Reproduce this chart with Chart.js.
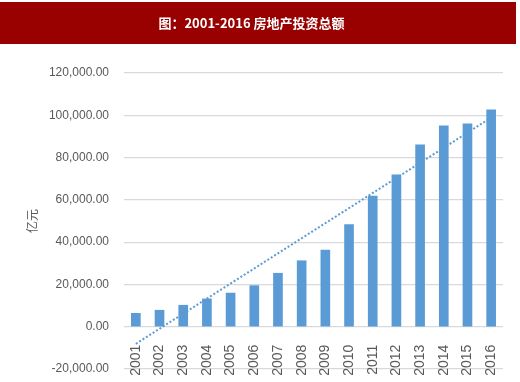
<!DOCTYPE html>
<html>
<head>
<meta charset="utf-8">
<script src="https://cdn.jsdelivr.net/npm/chart.js@4.4.1/dist/chart.umd.min.js"></script>
<style>
  html, body { margin: 0; padding: 0; background: #ffffff; }
  #wrap { width: 520px; height: 382px; position: relative; }
</style>
</head>
<body>
<div id="wrap"><canvas id="c" width="520" height="382"></canvas></div>
<script>
// ---- Data ----
const titleText = '图：2001-2016 房地产投资总额';
const yAxisTitle = '亿元';
const years = ['2001','2002','2003','2004','2005','2006','2007','2008','2009','2010','2011','2012','2013','2014','2015','2016'];
const investment = [6344, 7791, 10154, 13158, 15909, 19423, 25289, 31203, 36242, 48259, 61797, 71804, 86013, 95036, 95979, 102581];
// dotted linear trend line: endpoints (straight line between them)
const trend = [-8100, null, null, null, null, null, null, null, null, null, null, null, null, null, null, 98900];
const yTicks = [-20000, 0, 20000, 40000, 60000, 80000, 100000, 120000];

const bannerPlugin = {
  id: 'banner',
  beforeDraw(chart) {
    const ctx = chart.ctx;
    ctx.save();
    ctx.fillStyle = '#ffffff';
    ctx.fillRect(0, 0, chart.width, chart.height);
    ctx.fillStyle = '#990000';
    ctx.fillRect(0, 2, chart.width - 4, 42);
    ctx.restore();
  }
};

new Chart(document.getElementById('c'), {
  data: {
    labels: years,
    datasets: [
      {
        type: 'line',
        label: '趋势',
        data: trend,
        spanGaps: true,
        borderColor: '#5B9BD5',
        borderWidth: 2,
        borderDash: [2, 2],
        pointRadius: 0,
        fill: false,
        order: 0
      },
      {
        type: 'bar',
        label: '房地产投资总额',
        data: investment,
        backgroundColor: '#5B9BD5',
        borderWidth: 0,
        barThickness: 9,
        order: 1
      }
    ]
  },
  options: {
    responsive: false,
    animation: false,
    layout: { padding: { left: 0, right: 17, top: 0, bottom: 13 } },
    plugins: {
      legend: { display: false },
      tooltip: { enabled: false },
      title: {
        display: true,
        text: titleText,
        color: '#ffffff',
        font: { family: '"Noto Sans CJK SC", "Liberation Sans", sans-serif', size: 13, weight: 'bold', lineHeight: 1.23 },
        padding: { top: 15, bottom: 42 }
      }
    },
    scales: {
      x: {
        position: { y: 0 },
        grid: { display: false },
        border: { display: false },
        ticks: {
          color: '#595959',
          font: { family: '"Liberation Sans", sans-serif', size: 14 },
          minRotation: 90,
          maxRotation: 90,
          padding: 10,
          autoSkip: false
        }
      },
      y: {
        min: -20000,
        max: 120000,
        afterFit(s) { s.width = 124; s.paddingTop = 0; s.paddingBottom = 0; },
        afterBuildTicks(s) { s.ticks = yTicks.map(v => ({ value: v })); },
        grid: { color: '#D9D9D9', lineWidth: 1.2, drawTicks: false },
        border: { display: false },
        ticks: {
          color: '#595959',
          font: { family: '"Liberation Sans", sans-serif', size: 12 },
          padding: 15,
          callback: v => Number(v).toLocaleString('en-US', { minimumFractionDigits: 2, maximumFractionDigits: 2 })
        },
        title: {
          display: true,
          text: yAxisTitle,
          color: '#595959',
          font: { family: '"Noto Sans CJK SC", sans-serif', size: 12 },
          padding: { top: 25, bottom: 0 }
        }
      }
    }
  },
  plugins: [bannerPlugin]
});
</script>
</body>
</html>
